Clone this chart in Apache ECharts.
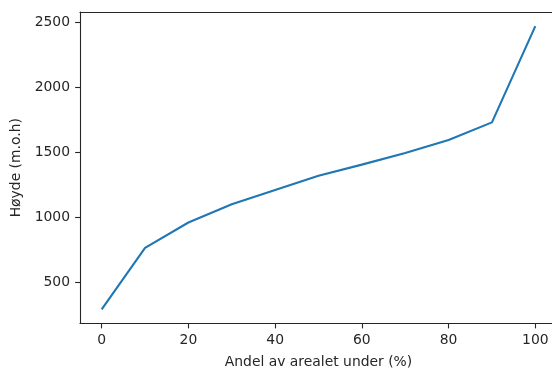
<!DOCTYPE html>
<html>
<head>
<meta charset="utf-8">
<script src="https://cdn.jsdelivr.net/npm/echarts@6/dist/echarts.min.js"></script>
<style>html,body{margin:0;padding:0;background:#fff}#c{width:552px;height:371px}</style>
</head>
<body>
<div id="c"></div>
<script>
const xValues = [0, 10, 20, 30, 40, 50, 60, 70, 80, 90, 100];
const heights = [292, 765, 960, 1100, 1210, 1320, 1405, 1495, 1595, 1730, 2470];
const xTicks = [0, 20, 40, 60, 80, 100];
const yTicks = [500, 1000, 1500, 2000, 2500];
const xLabel = 'Andel av arealet under (%)';
const yLabel = 'Høyde (m.o.h)';

const font = 'DejaVu Sans';
const ink = '#262626';
const chart = echarts.init(document.getElementById('c'), null, {renderer: 'canvas'});
chart.setOption({
  animation: false,
  grid: {left: 80, top: 12, right: -5, bottom: 47.5, containLabel: false, outerBoundsMode: 'none'},
  xAxis: [{
    type: 'value', min: -5, max: 105,
    name: xLabel, nameLocation: 'middle', nameGap: 32,
    nameTextStyle: {fontFamily: font, fontSize: 13.9, color: ink},
    axisLine: {show: true, onZero: false, lineStyle: {color: ink, width: 1.1}},
    axisTick: {show: true, length: 4.9, customValues: xTicks, lineStyle: {color: ink, width: 1.1}},
    axisLabel: {customValues: xTicks, margin: 10, fontFamily: font, fontSize: 13.9, color: ink, formatter: v => String(v)},
    splitLine: {show: false}
  }, {
    type: 'value', position: 'top', min: -5, max: 105,
    axisLine: {show: true, onZero: false, lineStyle: {color: ink, width: 1.1}},
    axisTick: {show: false}, axisLabel: {show: false}, splitLine: {show: false}
  }],
  yAxis: [{
    type: 'value', min: 183, max: 2579,
    name: yLabel, nameLocation: 'middle', nameGap: 52,
    nameTextStyle: {fontFamily: font, fontSize: 13.9, color: ink},
    axisLine: {show: true, onZero: false, lineStyle: {color: ink, width: 1.1}},
    axisTick: {show: true, length: 4.9, customValues: yTicks, lineStyle: {color: ink, width: 1.1}},
    axisLabel: {customValues: yTicks, margin: 10, fontFamily: font, fontSize: 13.9, color: ink, formatter: v => String(v)},
    splitLine: {show: false}
  }],
  series: [{
    type: 'line',
    data: xValues.map((x, i) => [x, heights[i]]),
    showSymbol: false,
    lineStyle: {color: '#1f77b4', width: 2.1},
    itemStyle: {color: '#1f77b4'}
  }]
});
</script>
</body>
</html>
